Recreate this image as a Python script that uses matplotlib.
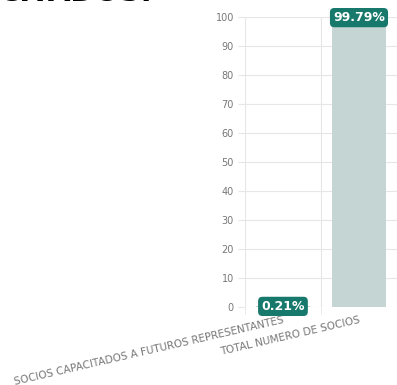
import matplotlib.pyplot as plt
import numpy as np

# --- Data ---
categories = ["SOCIOS CAPACITADOS A FUTUROS REPRESENTANTES", "TOTAL NUMERO DE SOCIOS"]
values = [0.21, 99.79]
labels = ["0.21%", "99.79%"]
yticks = list(range(0, 101, 10))

grid_col = "#e6e6e6"
text_col = "#777777"
bar_col = "#c5d5d3"
badge_col = "#17786c"

fig = plt.figure(figsize=(3.97, 3.85), dpi=100)
ax = fig.add_axes([0.617, 0.2026, 0.383, 0.7532])

x = np.arange(len(categories))
ax.bar(x, values, width=0.72, color=bar_col, zorder=2)

ax.set_xlim(-0.5, len(categories) - 0.5)
ax.set_ylim(0, 100)

# horizontal grid + left tick marks
ax.set_yticks(yticks)
ax.set_yticklabels([str(t) for t in yticks], fontsize=7, color=text_col)
ax.tick_params(axis="y", length=5, color=grid_col, pad=3)
ax.yaxis.grid(True, color=grid_col, linewidth=0.8, zorder=0)

# category boundaries as vertical grid lines
ax.set_xticks(np.arange(-0.5, len(categories), 1.0), minor=True)
ax.xaxis.grid(True, which="minor", color=grid_col, linewidth=0.8, zorder=0)
ax.tick_params(axis="x", which="minor", length=5, color=grid_col)
ax.set_xticks(x)
ax.set_xticklabels(categories, rotation=13, ha="right", rotation_mode="anchor",
                   fontsize=7.5, color=text_col)
ax.tick_params(axis="x", which="major", length=0, pad=6)

for s in ax.spines.values():
    s.set_visible(False)

# value badges
for xi, v, lab in zip(x, values, labels):
    ax.text(xi, v, lab, ha="center", va="center", color="white",
            fontsize=9, fontweight="bold", zorder=5, clip_on=False,
            bbox=dict(boxstyle="round,pad=0.25,rounding_size=0.35",
                      fc=badge_col, ec="none"))

# cut-off heading at the top of the picture
fig.text(-0.005, 1 - 1 / 385, "CITADOS:", fontsize=21, fontweight="bold",
         color="black", ha="left", va="baseline")

fig.savefig("out.png", dpi=100)
